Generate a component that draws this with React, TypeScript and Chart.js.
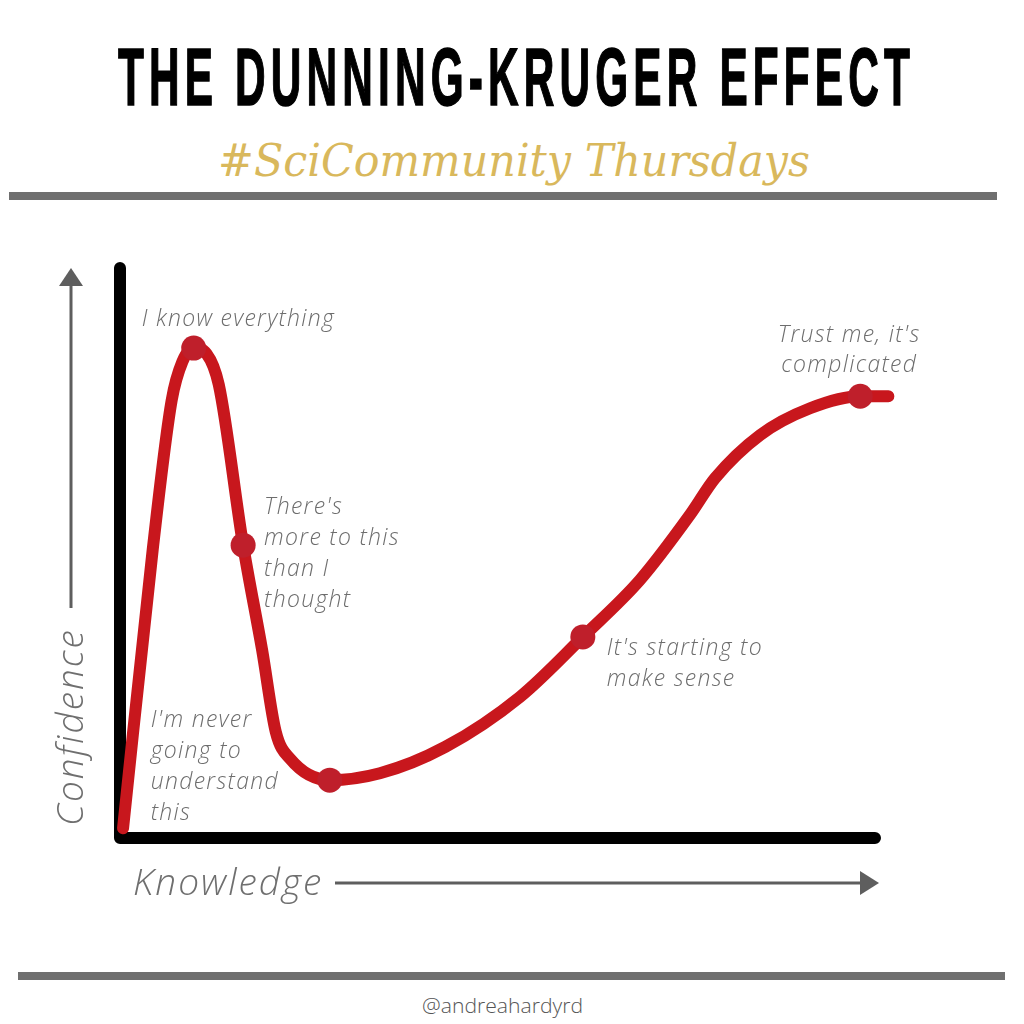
import { useEffect, useRef } from "react";
import { Chart, registerables } from "chart.js";

Chart.register(...registerables);

// ---- Data (knowledge 0-100 along x, confidence 0-100 along y) ----
const knowledge = [0.4, 4.3, 6.8, 8.2, 9.7, 11.4, 13.0, 16.2, 18.7, 20.5, 22.4, 27.6, 34.2, 42.8, 52.6, 60.9, 68.4, 75.0, 78.3, 84.2, 90.8, 97.4, 101.1];
const confidence = [1.7, 50.3, 76.4, 83.1, 85.5, 84.5, 79.1, 51.1, 32.8, 18.5, 13.8, 10.1, 11.3, 15.9, 24.6, 35.1, 45.0, 56.4, 62.8, 70.3, 75.0, 77.1, 77.1];
const milestoneIndex = [4, 7, 11, 15, 21];
const milestoneLabels = [
  ["I know everything"],
  ["There's", "more to this", "than I", "thought"],
  ["I'm never", "going to", "understand", "this"],
  ["It's starting to", "make sense"],
  ["Trust me, it's", "complicated"],
];
const titleText = "THE DUNNING-KRUGER EFFECT";
const subtitleText = "#SciCommunity Thursdays";
const footerText = "@andreahardyrd";
const xAxisLabel = "Knowledge";
const yAxisLabel = "Confidence";

// ---- Label placement (pixel offsets from each milestone marker) ----
const labelLayout = [
  { dx: -52, dy: -29, align: "left" as CanvasTextAlign, lh: 31 },
  { dx: 21, dy: -38, align: "left" as CanvasTextAlign, lh: 31 },
  { dx: -179, dy: -60, align: "left" as CanvasTextAlign, lh: 31 },
  { dx: 24, dy: 12, align: "left" as CanvasTextAlign, lh: 31 },
  { dx: -11, dy: -61, align: "center" as CanvasTextAlign, lh: 30 },
];

const LABEL_FONT = "italic 300 23px 'Open Sans', Lato, sans-serif";
const AXIS_FONT = "italic 300 37px 'Open Sans', Lato, sans-serif";

const framePlugin = {
  id: "dkFrame",
  beforeDatasetsDraw(chart: any) {
    const { ctx, chartArea } = chart;
    const { left, right, top, bottom } = chartArea;
    ctx.save();
    // black axes
    ctx.strokeStyle = "#000";
    ctx.lineWidth = 12;
    ctx.lineCap = "round";
    ctx.lineJoin = "round";
    ctx.beginPath();
    ctx.moveTo(left, top + 3);
    ctx.lineTo(left, bottom);
    ctx.lineTo(right - 5, bottom);
    ctx.stroke();

    // y arrow
    const ax = left - 49;
    ctx.strokeStyle = "#5e5e5e";
    ctx.fillStyle = "#5e5e5e";
    ctx.lineWidth = 3;
    ctx.lineCap = "butt";
    ctx.beginPath();
    ctx.moveTo(ax, bottom - 230);
    ctx.lineTo(ax, top + 18);
    ctx.stroke();
    ctx.beginPath();
    ctx.moveTo(ax, top + 3);
    ctx.lineTo(ax - 12, top + 21);
    ctx.lineTo(ax + 12, top + 21);
    ctx.closePath();
    ctx.fill();

    // x arrow
    const ay = bottom + 45;
    ctx.beginPath();
    ctx.moveTo(left + 215, ay);
    ctx.lineTo(right - 18, ay);
    ctx.stroke();
    ctx.beginPath();
    ctx.moveTo(right - 1, ay);
    ctx.lineTo(right - 20, ay - 12);
    ctx.lineTo(right - 20, ay + 12);
    ctx.closePath();
    ctx.fill();

    // axis labels
    ctx.fillStyle = "#6f6f6f";
    ctx.font = AXIS_FONT;
    ctx.textBaseline = "alphabetic";
    ctx.textAlign = "left";
    ctx.letterSpacing = "2px";
    ctx.fillText(xAxisLabel, left + 13, bottom + 57);
    ctx.save();
    ctx.translate(left - 37, bottom - 12);
    ctx.rotate(-Math.PI / 2);
    ctx.fillText(yAxisLabel, 0, 0);
    ctx.restore();
    ctx.letterSpacing = "0px";
    ctx.restore();
  },
  afterDatasetsDraw(chart: any) {
    const { ctx } = chart;
    const meta = chart.getDatasetMeta(0);
    ctx.save();
    ctx.fillStyle = "#6d6d6d";
    ctx.font = LABEL_FONT;
    ctx.textBaseline = "middle";
    ctx.letterSpacing = "1.3px";
    milestoneLabels.forEach((lines, i) => {
      const pt = meta.data[i];
      if (!pt) return;
      const lay = labelLayout[i];
      ctx.textAlign = lay.align;
      lines.forEach((line, j) => {
        ctx.fillText(line, pt.x + lay.dx, pt.y + lay.dy + j * lay.lh);
      });
    });
    ctx.letterSpacing = "0px";
    ctx.restore();
  },
};

export default function App() {
  const ref = useRef<HTMLCanvasElement>(null);

  useEffect(() => {
    const curve = knowledge.map((k, i) => ({ x: k, y: confidence[i] }));
    const milestones = milestoneIndex.map((i) => ({ x: knowledge[i], y: confidence[i] }));
    const chart = new Chart(ref.current!, {
      type: "line",
      data: {
        datasets: [
          {
            label: "Milestones",
            data: milestones,
            showLine: false,
            pointRadius: 12.5,
            pointBackgroundColor: "#bf1f2b",
            pointBorderWidth: 0,
            order: 0,
          } as any,
          {
            label: "Dunning-Kruger curve",
            data: curve,
            borderColor: "#c8171d",
            borderWidth: 12,
            borderCapStyle: "round",
            borderJoinStyle: "round",
            pointRadius: 0,
            cubicInterpolationMode: "monotone",
            clip: false,
            order: 1,
          } as any,
        ],
      },
      options: {
        animation: false,
        responsive: false,
        devicePixelRatio: 1,
        events: [],
        layout: { padding: { left: 120, right: 144, top: 265, bottom: 186 } },
        scales: {
          x: { type: "linear", min: 0, max: 100, display: false },
          y: { type: "linear", min: 0, max: 100, display: false },
        },
        plugins: {
          legend: { display: false },
          tooltip: { enabled: false },
        },
      },
      plugins: [framePlugin],
    });
    return () => chart.destroy();
  }, []);

  return (
    <div
      style={{
        position: "absolute",
        left: 0,
        top: 0,
        width: 1024,
        height: 1024,
        background: "#fff",
        overflow: "hidden",
      }}
    >
      <svg
        width={1024}
        height={1024}
        style={{ position: "absolute", left: 0, top: 0 }}
      >
        <text
          x={118}
          y={105}
          textLength={797}
          lengthAdjust="spacingAndGlyphs"
          fontFamily="'Liberation Sans', Arial, sans-serif"
          fontWeight="bold"
          fontSize={82}
          letterSpacing={10}
          fill="#000"
          stroke="#000"
          strokeWidth={1.5}
        >
          {titleText}
        </text>
        <text
          x={218}
          y={176}
          textLength={592}
          lengthAdjust="spacingAndGlyphs"
          fontFamily="'DejaVu Serif', 'Liberation Serif', serif"
          fontStyle="italic"
          fontSize={44}
          fill="#d9b85c"
        >
          {subtitleText}
        </text>
        <rect x={9} y={192} width={988} height={8} fill="#6f6f6f" />
        <rect x={18} y={972} width={987} height={8} fill="#6f6f6f" />
        <text
          x={422}
          y={1013}
          textLength={161}
          lengthAdjust="spacingAndGlyphs"
          fontFamily="'Open Sans', Lato, sans-serif"
          fontWeight={300}
          fontSize={20}
          fill="#555"
        >
          {footerText}
        </text>
      </svg>
      <canvas
        ref={ref}
        width={1024}
        height={1024}
        style={{ position: "absolute", left: 0, top: 0, width: 1024, height: 1024 }}
      />
    </div>
  );
}
